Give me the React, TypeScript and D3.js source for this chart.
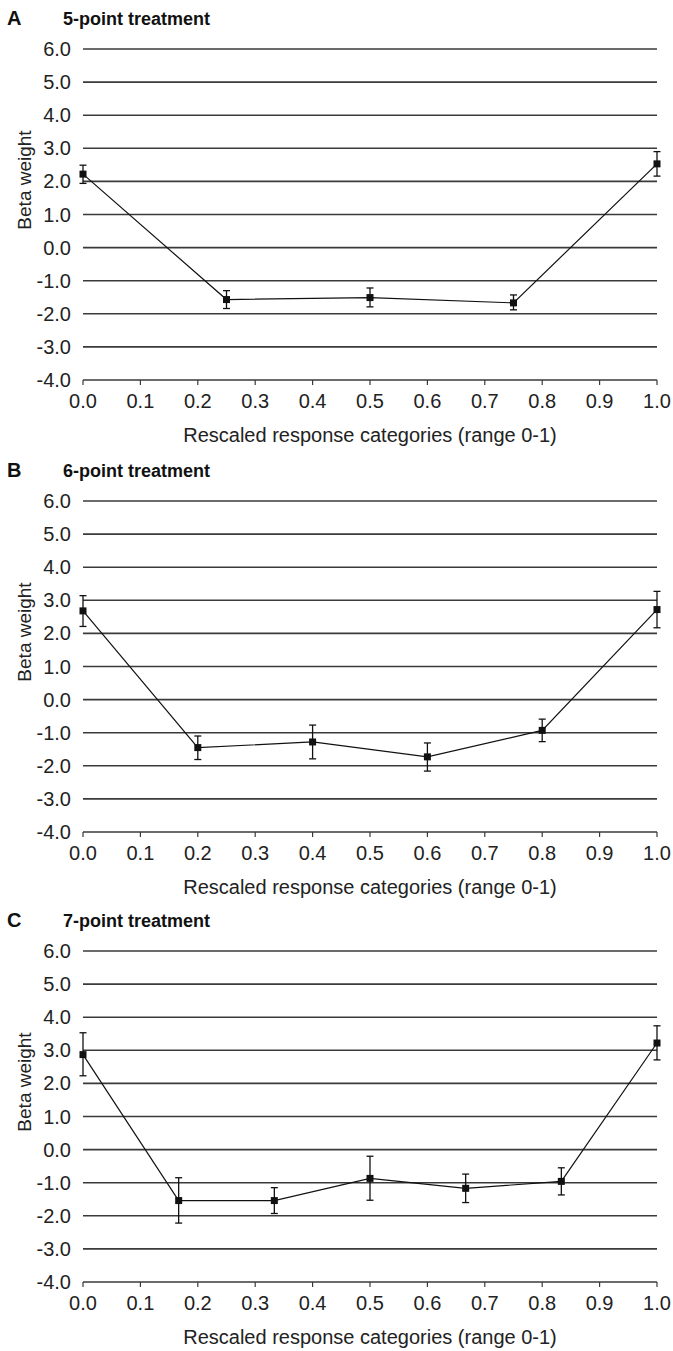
import React, { useEffect, useRef } from 'react';
import * as d3 from 'd3';

// panel A: 5-point scale
const xA = [0, 0.25, 0.5, 0.75, 1];
const betaA = [2.22, -1.57, -1.51, -1.67, 2.53];
const lowA = [1.94, -1.84, -1.79, -1.88, 2.16];
const highA = [2.49, -1.3, -1.22, -1.43, 2.9];

// panel B: 6-point scale
const xB = [0, 0.2, 0.4, 0.6, 0.8, 1];
const betaB = [2.68, -1.45, -1.28, -1.73, -0.93, 2.72];
const lowB = [2.21, -1.81, -1.79, -2.16, -1.27, 2.17];
const highB = [3.14, -1.1, -0.77, -1.31, -0.59, 3.27];

// panel C: 7-point scale
const xC = [0, 1 / 6, 2 / 6, 3 / 6, 4 / 6, 5 / 6, 1];
const betaC = [2.87, -1.54, -1.54, -0.87, -1.17, -0.96, 3.22];
const lowC = [2.23, -2.22, -1.93, -1.53, -1.6, -1.37, 2.71];
const highC = [3.53, -0.85, -1.15, -0.2, -0.74, -0.55, 3.74];

const panelLetters = ['A', 'B', 'C'];
const panelTitles = ['5-point treatment', '6-point treatment', '7-point treatment'];
const yTicks = [6, 5, 4, 3, 2, 1, 0, -1, -2, -3, -4];
const xTicks = [0, 0.1, 0.2, 0.3, 0.4, 0.5, 0.6, 0.7, 0.8, 0.9, 1];
const xTitle = 'Rescaled response categories (range 0-1)';
const yTitle = 'Beta weight';

const panels = [
  { x: xA, beta: betaA, low: lowA, high: highA },
  { x: xB, beta: betaB, low: lowB, high: highB },
  { x: xC, beta: betaC, low: lowC, high: highC },
];

const W = 673;
const H = 1351;
const panelTops = [49, 501, 951];
const plotH = 331;
const left = 83;
const right = 657;
const font = '"Liberation Sans", Arial, Helvetica, sans-serif';
const fmt = (d: number) => d.toFixed(1);

export default function App() {
  const svgRef = useRef<SVGSVGElement>(null);

  useEffect(() => {
    const svg = d3.select(svgRef.current);
    svg.selectAll('*').remove();
    svg.attr('width', W).attr('height', H).style('font-family', font);

    const x = d3.scaleLinear().domain([0, 1]).range([left, right]);

    panels.forEach((p, i) => {
      const top = panelTops[i];
      const y = d3.scaleLinear().domain([-4, 6]).range([top + plotH, top]);
      const g = svg.append('g');

      g.append('text')
        .attr('x', 7)
        .attr('y', top - 24)
        .attr('font-size', 20)
        .attr('font-weight', 'bold')
        .attr('fill', '#111')
        .text(panelLetters[i]);

      g.append('text')
        .attr('x', 63)
        .attr('y', top - 24)
        .attr('font-size', 18)
        .attr('font-weight', 'bold')
        .attr('fill', '#111')
        .text(panelTitles[i]);

      // horizontal gridlines
      g.selectAll('line.grid')
        .data(yTicks)
        .enter()
        .append('line')
        .attr('class', 'grid')
        .attr('x1', left)
        .attr('x2', right)
        .attr('y1', d => y(d))
        .attr('y2', d => y(d))
        .attr('stroke', '#3a3a3a')
        .attr('stroke-width', 1.6);

      g.selectAll('text.ylab')
        .data(yTicks)
        .enter()
        .append('text')
        .attr('class', 'ylab')
        .attr('x', left - 12)
        .attr('y', d => y(d) + 7)
        .attr('text-anchor', 'end')
        .attr('font-size', 20)
        .attr('fill', '#222')
        .text(fmt);

      // x axis ticks
      g.selectAll('line.xtick')
        .data(xTicks)
        .enter()
        .append('line')
        .attr('class', 'xtick')
        .attr('x1', d => x(d))
        .attr('x2', d => x(d))
        .attr('y1', y(-4))
        .attr('y2', y(-4) + 5)
        .attr('stroke', '#3a3a3a')
        .attr('stroke-width', 1.2);

      g.selectAll('text.xlab')
        .data(xTicks)
        .enter()
        .append('text')
        .attr('class', 'xlab')
        .attr('x', d => x(d))
        .attr('y', y(-4) + 28)
        .attr('text-anchor', 'middle')
        .attr('font-size', 20)
        .attr('fill', '#222')
        .text(fmt);

      g.append('text')
        .attr('x', (left + right) / 2)
        .attr('y', top + plotH + 62)
        .attr('text-anchor', 'middle')
        .attr('font-size', 20)
        .attr('fill', '#222')
        .text(xTitle);

      g.append('text')
        .attr('transform', `translate(31, ${top + 131}) rotate(-90)`)
        .attr('text-anchor', 'middle')
        .attr('font-size', 19)
        .attr('fill', '#222')
        .text(yTitle);

      const pts = p.x.map((xv, k) => ({ x: xv, b: p.beta[k], lo: p.low[k], hi: p.high[k] }));

      const line = d3
        .line<{ x: number; b: number }>()
        .x(d => x(d.x))
        .y(d => y(d.b));

      g.append('path')
        .datum(pts)
        .attr('d', line)
        .attr('fill', 'none')
        .attr('stroke', '#111')
        .attr('stroke-width', 1.2);

      const eb = g.selectAll('g.eb').data(pts).enter().append('g').attr('class', 'eb');
      eb.append('line')
        .attr('x1', d => x(d.x))
        .attr('x2', d => x(d.x))
        .attr('y1', d => y(d.lo))
        .attr('y2', d => y(d.hi))
        .attr('stroke', '#111')
        .attr('stroke-width', 1.3);
      (['lo', 'hi'] as const).forEach(k => {
        eb.append('line')
          .attr('x1', d => x(d.x) - 3.5)
          .attr('x2', d => x(d.x) + 3.5)
          .attr('y1', d => y(d[k]))
          .attr('y2', d => y(d[k]))
          .attr('stroke', '#111')
          .attr('stroke-width', 1.3);
      });
      eb.append('rect')
        .attr('x', d => x(d.x) - 3.5)
        .attr('y', d => y(d.b) - 3.5)
        .attr('width', 7)
        .attr('height', 7)
        .attr('fill', '#111');
    });
  }, []);

  return <svg ref={svgRef} style={{ position: 'absolute', left: 0, top: 0 }}></svg>;
}
